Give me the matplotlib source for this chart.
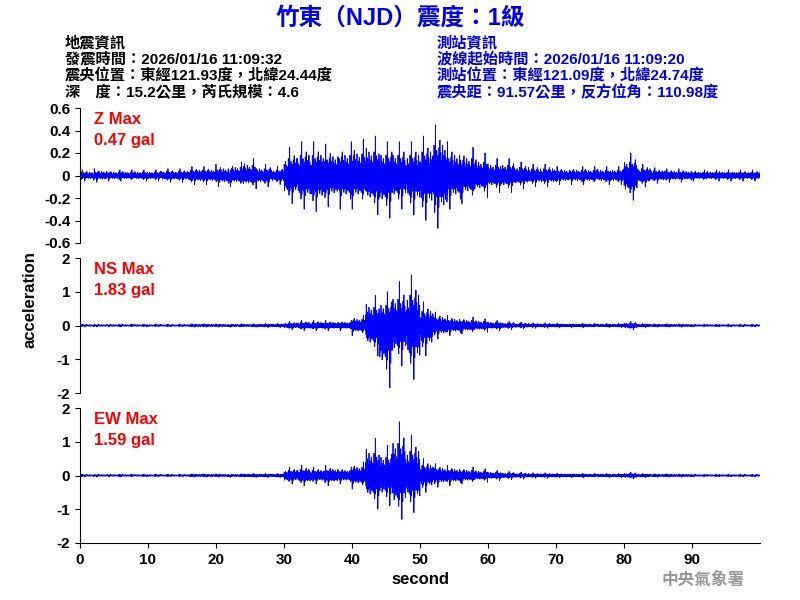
import numpy as np
import matplotlib
matplotlib.use("Agg")
import matplotlib.pyplot as plt

plt.rcParams['font.family'] = ['Liberation Sans', 'Noto Sans CJK TC', 'DejaVu Sans']

# Envelope peaks per 2-second bin (0..100 s)
z_up = [0.05,0.06,0.05,0.05,0.05,0.05,0.06,0.06,0.08,0.08,0.1,0.12,0.15,0.1,0.08,0.25,0.3,0.3,0.28,0.3,0.32,0.35,0.3,0.3,0.3,0.35,0.45,0.3,0.25,0.2,0.15,0.15,0.12,0.1,0.1,0.08,0.08,0.08,0.08,0.08,0.2,0.1,0.07,0.06,0.06,0.05,0.05,0.05,0.05,0.05]
z_lo = [0.05,0.06,0.05,0.05,0.05,0.05,0.06,0.06,0.08,0.08,0.1,0.1,0.12,0.1,0.08,0.25,0.3,0.32,0.28,0.3,0.3,0.35,0.38,0.3,0.35,0.4,0.47,0.3,0.25,0.2,0.15,0.15,0.12,0.1,0.1,0.08,0.08,0.08,0.08,0.08,0.22,0.1,0.07,0.06,0.06,0.05,0.05,0.05,0.05,0.05]
ns_up = [0.04,0.04,0.04,0.04,0.04,0.04,0.04,0.04,0.05,0.05,0.05,0.05,0.05,0.06,0.06,0.12,0.15,0.15,0.15,0.15,0.3,0.9,1.0,1.3,1.5,0.7,0.4,0.3,0.25,0.2,0.15,0.12,0.1,0.08,0.08,0.07,0.07,0.06,0.06,0.06,0.12,0.06,0.05,0.05,0.05,0.04,0.04,0.04,0.04,0.04]
ns_lo = [0.04,0.04,0.04,0.04,0.04,0.04,0.04,0.04,0.05,0.05,0.05,0.05,0.05,0.06,0.06,0.12,0.15,0.15,0.15,0.15,0.3,0.9,1.85,1.2,1.6,0.9,0.4,0.3,0.25,0.2,0.15,0.12,0.1,0.08,0.08,0.07,0.07,0.06,0.06,0.06,0.12,0.06,0.05,0.05,0.05,0.04,0.04,0.04,0.04,0.04]
ew_up = [0.04,0.04,0.04,0.04,0.04,0.04,0.04,0.04,0.05,0.05,0.05,0.05,0.06,0.06,0.06,0.25,0.3,0.25,0.3,0.25,0.4,1.1,0.9,1.59,1.2,0.5,0.35,0.3,0.25,0.2,0.15,0.12,0.1,0.08,0.08,0.07,0.07,0.06,0.06,0.06,0.1,0.06,0.05,0.05,0.05,0.04,0.04,0.04,0.04,0.04]
ew_lo = [0.04,0.04,0.04,0.04,0.04,0.04,0.04,0.04,0.05,0.05,0.05,0.05,0.06,0.06,0.06,0.25,0.3,0.25,0.3,0.25,0.4,1.0,0.9,1.3,1.1,0.5,0.35,0.3,0.25,0.2,0.15,0.12,0.1,0.08,0.08,0.07,0.07,0.06,0.06,0.06,0.1,0.06,0.05,0.05,0.05,0.04,0.04,0.04,0.04,0.04]
# fixed within-bin shape (relative amplitudes, alternating sign)
pattern = [0.3,-0.5,0.2,-0.35,0.6,-0.25,0.45,-0.7,0.15,-0.3,1.0,-0.55,0.25,-0.4,0.35,-0.2,
           0.5,-0.3,0.1,-0.45,0.3,-1.0,0.4,-0.25,0.2,-0.6,0.55,-0.15,0.35,-0.3,0.7,-0.4,
           0.25,-0.2,0.45,-0.35,0.15,-0.5,0.3,-0.25,0.2,-0.4,0.6,-0.3,0.1,-0.2,0.4,-0.55,
           0.3,-0.15,0.25,-0.35,0.5,-0.2,0.15,-0.45,0.35,-0.3,0.2,-0.25]

panels = [("Z Max\n0.47 gal", z_up, z_lo, 0.6, [0.6,0.4,0.2,0,-0.2,-0.4,-0.6]),
          ("NS Max\n1.83 gal", ns_up, ns_lo, 2, [2,1,0,-1,-2]),
          ("EW Max\n1.59 gal", ew_up, ew_lo, 2, [2,1,0,-1,-2])]

def trace(up, lo):
    per_bin = len(pattern)
    n = len(up) * per_bin
    t = np.arange(n) * (100.0 / n)
    # shift pattern per bin so bins do not look identical
    idx = (np.arange(n) + 7 * (np.arange(n) // per_bin)) % per_bin
    p = np.array(pattern)[idx]
    env_u = np.repeat(up, per_bin)
    env_l = np.repeat(lo, per_bin)
    y = np.where(p > 0, p * env_u, p * env_l)
    return t, y

fig = plt.figure(figsize=(8, 6), dpi=100)
W, H = 800, 600
tops = [108, 258, 408]
for i, (lab, up, lo, lim, ticks) in enumerate(panels):
    ax = fig.add_axes([80/W, 1-(tops[i]+135)/H, 680/W, 135/H])
    t, y = trace(up, lo)
    ax.plot(t, y, color='#0000ff', lw=0.6)
    ax.set_xlim(0, 100)
    ax.set_ylim(-lim, lim)
    ax.set_yticks(ticks)
    ax.set_yticklabels([('%g' % v) for v in ticks], fontsize=11, fontweight='bold')
    for s in ['top', 'right']:
        ax.spines[s].set_visible(False)
    if i < 2:
        ax.spines['bottom'].set_visible(False)
        ax.set_xticks([])
    else:
        ax.set_xticks(range(0, 100, 10))
        ax.set_xticklabels([str(v) for v in range(0, 100, 10)], fontsize=11, fontweight='bold')
        ax.set_xlabel('second', fontsize=12, fontweight='bold')
    ax.text(0.02, 0.97, lab, transform=ax.transAxes, color='red', fontsize=12,
            fontweight='bold', va='top', linespacing=1.5)

fig.text(30/W, 1-300/H, 'acceleration', rotation=90, ha='center', va='center',
         fontsize=12, fontweight='bold')
fig.text(400/W, 1-18/H, '竹東（NJD）震度：1級', ha='center', va='center',
         fontsize=17, fontweight='bold', color='#0000ee')
left = ['地震資訊', '發震時間：2026/01/16 11:09:32', '震央位置：東經121.93度，北緯24.44度',
        '深　度：15.2公里，芮氏規模：4.6']
right = ['測站資訊', '波線起始時間：2026/01/16 11:09:20', '測站位置：東經121.09度，北緯24.74度',
         '震央距：91.57公里，反方位角：110.98度']
for k in range(4):
    y = 1-(43+k*16.5)/H
    fig.text(65/W, y, left[k], fontsize=11, fontweight='bold', va='center', color='black')
    fig.text(437/W, y, right[k], fontsize=11, fontweight='bold', va='center', color='#0000ee')
fig.text(745/W, 1-580/H, '中央氣象署', ha='right', va='center', fontsize=12,
         fontweight='bold', color='#999999')
fig.savefig('out.png', dpi=100)
